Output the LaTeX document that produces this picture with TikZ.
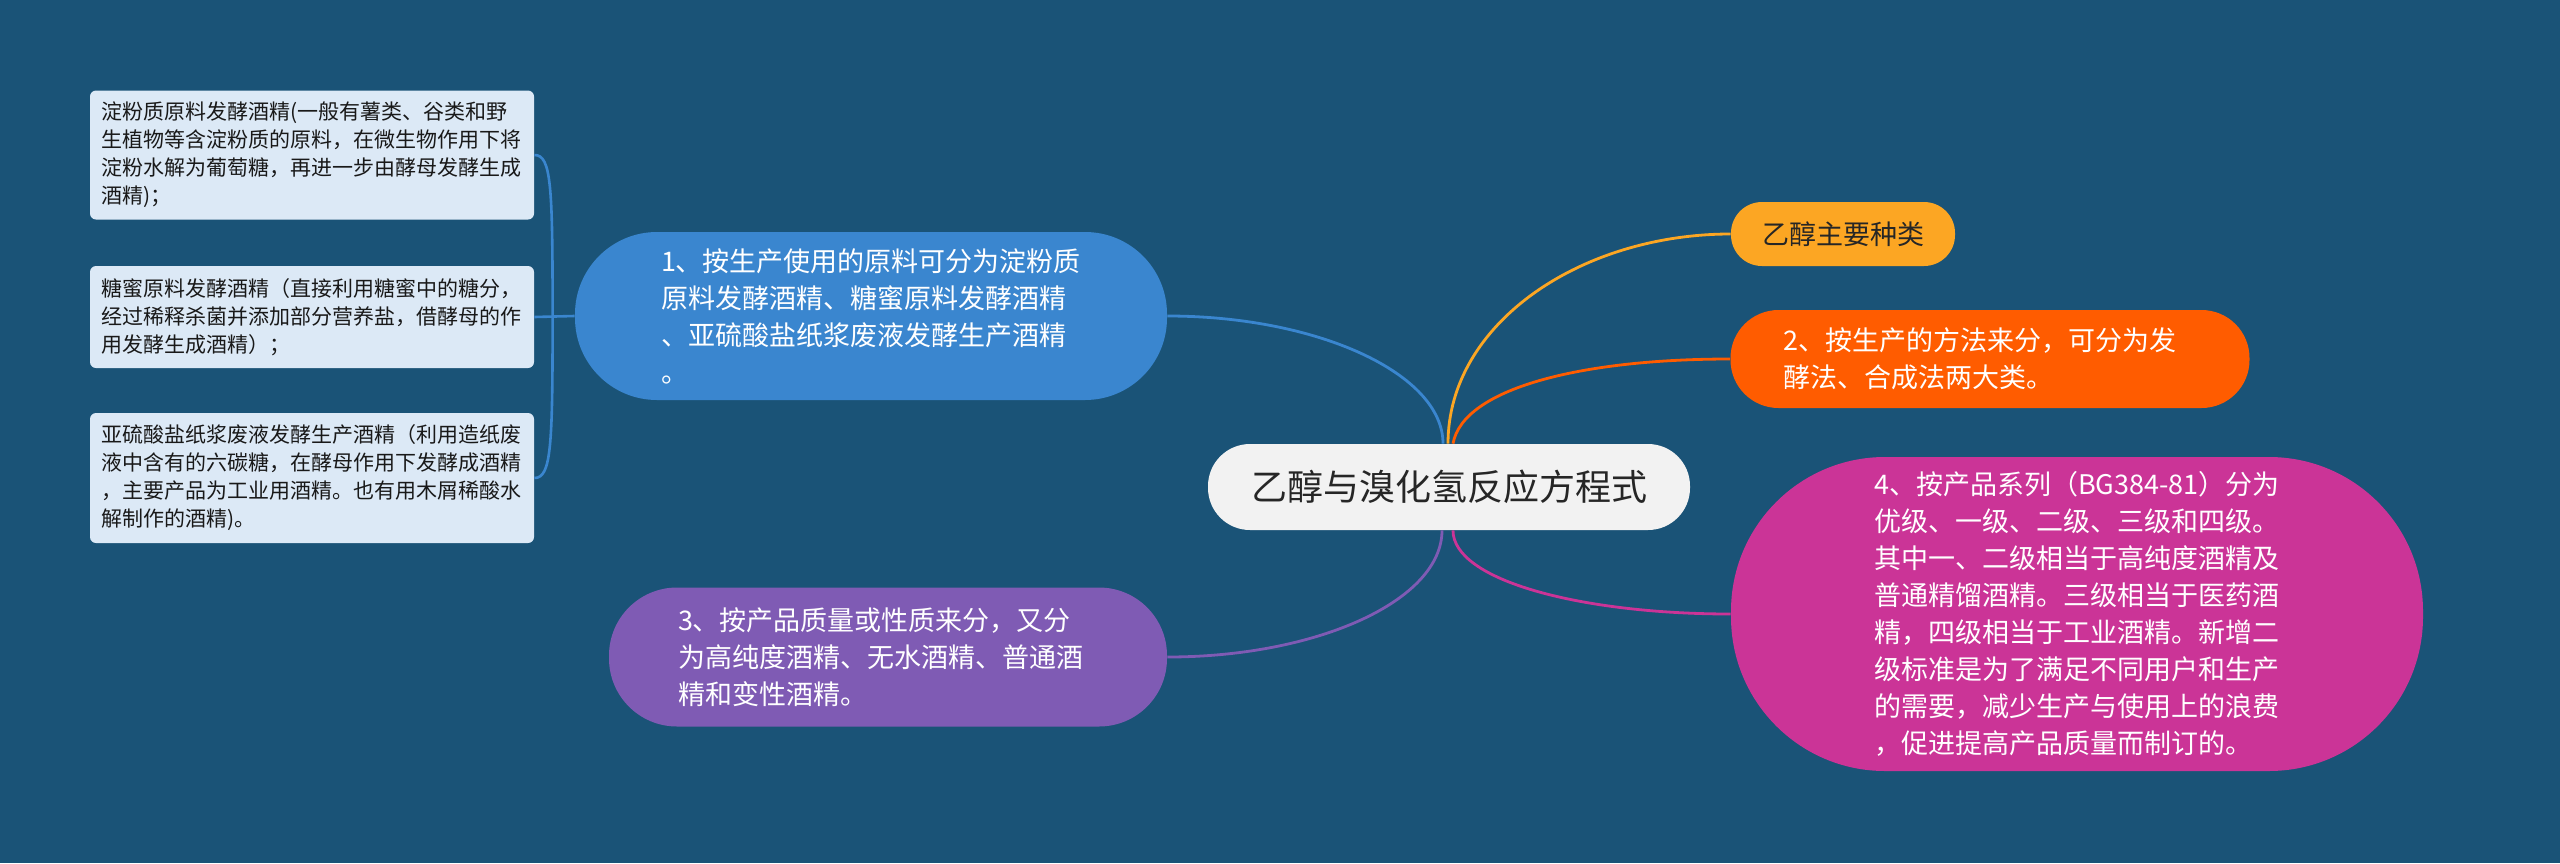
\documentclass[tikz,border=0pt]{standalone}
\usepackage{fontspec}
\newfontfamily\cjk{Noto Sans CJK SC}
\usetikzlibrary{calc}
\definecolor{bgblue}{RGB}{26,83,119}
\definecolor{rootfill}{RGB}{242,242,242}
\definecolor{topicblue}{RGB}{58,134,207}
\definecolor{leafblue}{RGB}{220,233,246}
\definecolor{topicyellow}{RGB}{252,166,35}
\definecolor{topicorange}{RGB}{255,92,0}
\definecolor{topicpink}{RGB}{203,52,151}
\definecolor{topicpurple}{RGB}{127,91,180}

\begin{document}
\begin{tikzpicture}[x=0.5pt, y=-0.5pt,
        root/.style={rectangle, rounded corners=21pt, fill=rootfill, text=black!85,
            minimum width=241pt, minimum height=43pt, inner sep=0pt,
            font=\cjk\fontsize{18}{22}\selectfont},
        topic/.style={rectangle, text=white, align=left, inner sep=0pt,
            font=\cjk\fontsize{13.5}{18.5}\selectfont},
        leaf/.style={rectangle, rounded corners=3pt, fill=leafblue, text=black!90,
            align=left, minimum width=222pt, text width=211pt, inner sep=0pt,
            font=\cjk\fontsize{10.5}{14}\selectfont},
        link/.style={line width=1.4pt},
        sublink/.style={line width=1.3pt, topicblue}]
        % Background
        \fill[bgblue] (0,0) rectangle (2560,863);
        % Root
        \node[root] (root) at (1449,487) {乙醇与溴化氢反应方程式};
        % Topics
        \node[topic, fill=topicblue, minimum width=296pt, minimum height=84pt,
            rounded corners=41pt, text width=210pt] (n1) at (871,316)
            {1、按生产使用的原料可分为淀粉质\\原料发酵酒精、糖蜜原料发酵酒精\\、亚硫酸盐纸浆废液发酵生产酒精\\。};
        \node[topic, fill=topicpurple, minimum width=279pt, minimum height=69.5pt,
            rounded corners=34pt, text width=210pt] (n3) at (888,657)
            {3、按产品质量或性质来分，又分\\为高纯度酒精、无水酒精、普通酒\\精和变性酒精。};
        \node[topic, fill=topicyellow, text=black!85, minimum width=112pt, minimum height=32pt,
            rounded corners=15.5pt, align=center] (kinds) at (1843,234) {乙醇主要种类};
        \node[topic, fill=topicorange, minimum width=259.5pt, minimum height=49pt,
            rounded corners=24pt, text width=207pt] (n2) at (1990,359)
            {2、按生产的方法来分，可分为发\\酵法、合成法两大类。};
        \node[topic, fill=topicpink, minimum width=346pt, minimum height=157pt,
            rounded corners=77pt, text width=203pt] (n4) at (2077,614)
            {4、按产品系列（BG384-81）分为\\优级、一级、二级、三级和四级。\\其中一、二级相当于高纯度酒精及\\普通精馏酒精。三级相当于医药酒\\精，四级相当于工业酒精。新增二\\级标准是为了满足不同用户和生产\\的需要，减少生产与使用上的浪费\\，促进提高产品质量而制订的。};
        % Leaves of topic 1
        \node[leaf, minimum height=64.5pt] (la) at (312,155)
            {淀粉质原料发酵酒精(一般有薯类、谷类和野\\生植物等含淀粉质的原料，在微生物作用下将\\淀粉水解为葡萄糖，再进一步由酵母发酵生成\\酒精)；};
        \node[leaf, minimum height=51pt] (lb) at (312,317)
            {糖蜜原料发酵酒精（直接利用糖蜜中的糖分，\\经过稀释杀菌并添加部分营养盐，借酵母的作\\用发酵生成酒精）；};
        \node[leaf, minimum height=65pt] (lc) at (312,478)
            {亚硫酸盐纸浆废液发酵生产酒精（利用造纸废\\液中含有的六碳糖，在酵母作用下发酵成酒精\\，主要产品为工业用酒精。也有用木屑稀酸水\\解制作的酒精)。};
        % Connectors from the root
        \draw[link, topicblue] ([xshift=-3pt]root.north) .. controls +(0,-70) and +(150,0) .. (n1.east);
        \draw[link, topicyellow] ([xshift=-0.5pt]root.north) .. controls +(0,-120) and +(-150,0) .. (kinds.west);
        \draw[link, topicorange] ([xshift=2pt]root.north) .. controls +(10,-55) and +(-150,0) .. (n2.west);
        \draw[link, topicpurple] ([xshift=-3.5pt]root.south) .. controls +(0,70) and +(150,0) .. (n3.east);
        \draw[link, topicpink] ([xshift=2pt]root.south) .. controls +(0,50) and +(-150,0) .. (n4.west);
        % Bracket to the leaves
        \coordinate (fork) at ([xshift=-11pt]n1.west);
        \draw[sublink] (lb.east) -- (n1.west);
        \foreach \leaf/\dy in {la/-130, lc/130}
            \draw[sublink] (\leaf.east) .. controls +(17,0) and +(0,\dy) .. (fork);
    \end{tikzpicture}
\end{document}
